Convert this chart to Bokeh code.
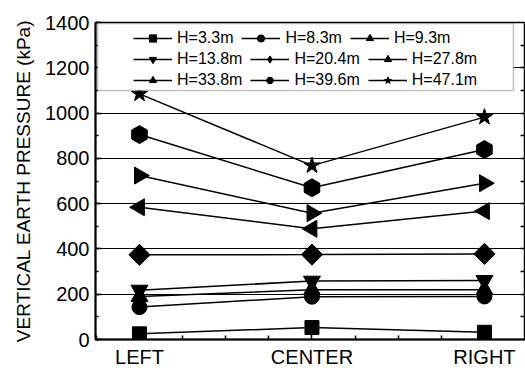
import numpy as np
from bokeh.plotting import figure
from bokeh.models import (Legend, LegendItem, BoxAnnotation, LinearAxis, FixedTicker,
                          SingleIntervalTicker, Range1d)
from bokeh.embed import file_html
from bokeh.resources import INLINE

# ---- data ----
positions = [0, 1, 2]
categories = ["LEFT", "CENTER", "RIGHT"]
labels = ["H=3.3m", "H=8.3m", "H=9.3m", "H=13.8m", "H=20.4m", "H=27.8m",
          "H=33.8m", "H=39.6m", "H=47.1m"]
h_3_3 = [25, 53, 32]
h_8_3 = [143, 189, 190]
h_9_3 = [190, 220, 220]
h_13_8 = [218, 258, 261]
h_20_4 = [374, 375, 378]
h_27_8 = [584, 489, 567]
h_33_8 = [724, 558, 690]
h_39_6 = [905, 670, 839]
h_47_1 = [1085, 768, 982]
series = [h_3_3, h_8_3, h_9_3, h_13_8, h_20_4, h_27_8, h_33_8, h_39_6, h_47_1]

# ---- styles: (plot marker, size, angle, legend marker) ----
styles = [("square", 14, 0.0, "square"), ("circle", 15, 0.0, "circle"),
          ("triangle", 17, 0.0, "triangle"),
          ("inverted_triangle", 17, 0.0, "inverted_triangle"),
          ("square", 15, np.pi / 4, "diamond"),
          ("triangle", 17, np.pi / 2, "triangle"),
          ("triangle", 17, -np.pi / 2, "triangle"),
          ("hex", 18, np.pi / 2, "hex"), ("star", 17, 0.0, "star")]

FONT = "Liberation Sans"

p = figure(width=525, height=370, output_backend="svg", toolbar_location=None,
           x_range=Range1d(-0.255, 2.238), y_range=Range1d(0, 1400),
           min_border_left=95, min_border_right=0, min_border_top=22, min_border_bottom=31,
           background_fill_color="white", border_fill_color="white")
p.outline_line_color = "black"
p.outline_line_width = 1.5

yticker = SingleIntervalTicker(interval=200, num_minor_ticks=2)
p.yaxis.ticker = yticker
p.ygrid.ticker = yticker
p.ygrid.grid_line_color = "black"
p.ygrid.grid_line_width = 1
p.xgrid.grid_line_color = None

xt = FixedTicker(ticks=positions, minor_ticks=[-0.25, 0.25, 0.5, 0.75, 1.25, 1.5, 1.75])
p.xaxis.ticker = xt
p.xaxis.major_label_overrides = {pos: cat for pos, cat in zip(positions, categories)}

for ax in [p.xaxis[0], p.yaxis[0]]:
    ax.axis_line_color = "black"
    ax.axis_line_width = 2
    ax.major_tick_in = 6
    ax.major_tick_out = 0
    ax.minor_tick_in = 3
    ax.minor_tick_out = 0
    ax.major_tick_line_color = "black"
    ax.minor_tick_line_color = "black"
    ax.major_tick_line_width = 1.5
    ax.minor_tick_line_width = 1.5
    ax.major_label_text_font = FONT
    ax.major_label_text_font_size = "20px"
    ax.major_label_text_color = "black"
p.xaxis.minor_tick_in = 4

p.xaxis.major_label_standoff = 6
p.yaxis.major_label_standoff = 6
p.yaxis.axis_label = "VERTICAL EARTH PRESSURE (kPa)"
p.yaxis.axis_label_text_font = FONT
p.yaxis.axis_label_text_font_size = "19px"
p.yaxis.axis_label_text_font_style = "normal"
p.yaxis.axis_label_text_color = "black"
p.yaxis.axis_label_standoff = 8

# right axis: ticks only (no labels)
rticker = FixedTicker(ticks=[], minor_ticks=list(range(100, 1400, 100)))
rax = LinearAxis(ticker=rticker, minor_tick_in=5, minor_tick_out=0,
                 axis_line_color="black", axis_line_width=1.5,
                 minor_tick_line_width=1.5, minor_tick_line_color="black")
p.add_layout(rax, "right")

items = []
for vals, lab, (mk, sz, ang, lmk) in zip(series, labels, styles):
    lr = p.line(positions, vals, line_color="black", line_width=1.5)
    sr = p.scatter(positions, vals, marker=mk, size=sz, angle=ang,
                   fill_color="black", line_color="black")
    if lmk != mk:
        # hidden twin renderer only used for the legend symbol
        hr = p.scatter(positions, vals, marker=lmk, size=sz,
                       fill_color="black", line_color="black", visible=False)
        items.append(LegendItem(label=lab, renderers=[lr, hr]))
    else:
        items.append(LegendItem(label=lab, renderers=[lr, sr]))

box = BoxAnnotation(left=-0.243, right=2.168, bottom=1100, top=1396,
                    fill_color="white", fill_alpha=1.0,
                    line_color="#333333", line_width=1.5)
p.add_layout(box)

row_bottoms = [292, 271, 250]
for r in range(3):
    lg = Legend(items=items[3 * r:3 * r + 3], orientation="horizontal",
                location=(38, row_bottoms[r]),
                padding=0, margin=0, spacing=8, label_standoff=5,
                glyph_width=39, glyph_height=18, label_height=18,
                label_text_font=FONT, label_text_font_size="16px",
                label_text_color="black", inactive_fill_alpha=0.0,
                border_line_color=None, background_fill_alpha=0)
    p.add_layout(lg, "center")

open("out.html", "w").write(file_html(p, INLINE))
